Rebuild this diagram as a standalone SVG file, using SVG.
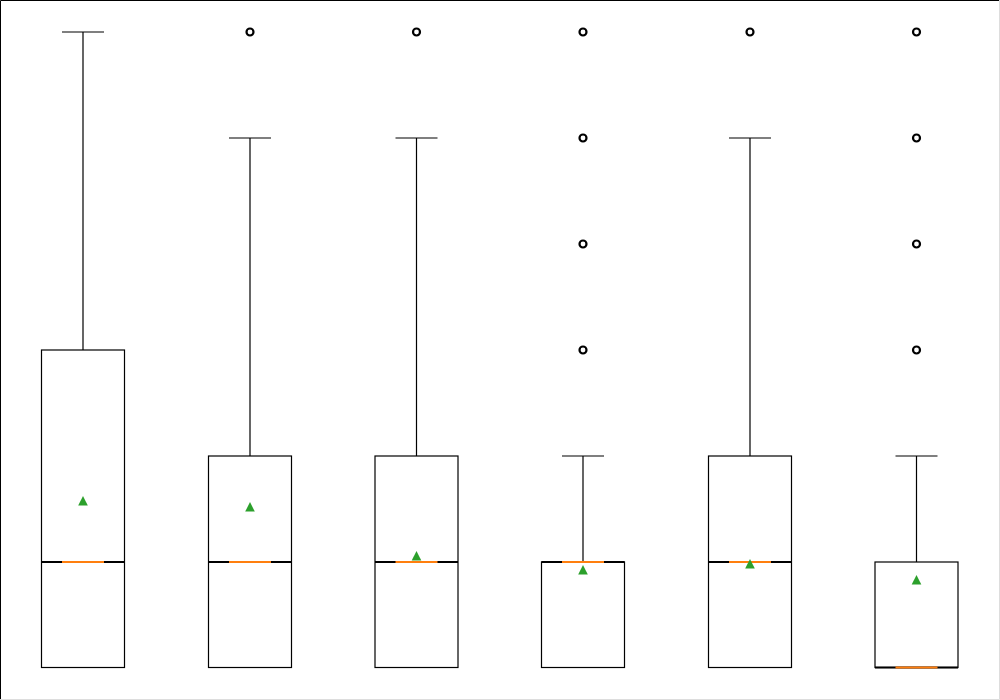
<svg xmlns="http://www.w3.org/2000/svg" xmlns:xlink="http://www.w3.org/1999/xlink" width="1000" height="700" viewBox="0 0 1000 700">
<style>
.box{fill:none;stroke:#000;stroke-width:1.2}
.wh{fill:none;stroke:#000;stroke-width:1.2}
.mline{fill:none;stroke:#000;stroke-width:2}
.med{stroke:#ff7f0e;stroke-width:2}
.fl{fill:none;stroke:#000;stroke-width:2.2}
.mean{fill:#2ca02c}
</style>
<defs>
<path id="tri" d="M0,-5 L4.8,4.6 L-4.8,4.6Z"/>
<circle id="flier" r="3.5"/>
</defs>
<rect width="1000" height="700" fill="#fff"/>
<path d="M0.5,700 V0.5 H1000" fill="none" stroke="#000" stroke-width="1"/>
<path d="M999.5,0 V699.5 H0" fill="none" stroke="#ddd" stroke-width="1"/>

<g id="box1">
<rect class="box" x="41.5" y="350" width="83" height="317.5"/>
<path class="wh" d="M83,350 V32 M62,32 H104 M62,667.5 H104"/>
<path class="mline" d="M41.5,562 H124.5"/>
<path class="med" d="M62,562 H104"/>
<use xlink:href="#tri" class="mean" x="83" y="501"/>
</g>

<g id="box2">
<rect class="box" x="208.5" y="456" width="83" height="211.5"/>
<path class="wh" d="M250,456 V138 M229,138 H271 M229,667.5 H271"/>
<path class="mline" d="M208.5,562 H291.5"/>
<path class="med" d="M229,562 H271"/>
<use xlink:href="#flier" class="fl" x="250" y="32"/>
<use xlink:href="#tri" class="mean" x="250" y="507"/>
</g>

<g id="box3">
<rect class="box" x="375" y="456" width="83" height="211.5"/>
<path class="wh" d="M416.5,456 V138 M395.5,138 H437.5 M395.5,667.5 H437.5"/>
<path class="mline" d="M375,562 H458"/>
<path class="med" d="M395.5,562 H437.5"/>
<use xlink:href="#flier" class="fl" x="416.5" y="32"/>
<use xlink:href="#tri" class="mean" x="416.5" y="556"/>
</g>

<g id="box4">
<rect class="box" x="541.5" y="562" width="83" height="105.5"/>
<path class="wh" d="M583,562 V456 M562,456 H604 M562,667.5 H604"/>
<path class="mline" d="M541.5,562 H624.5"/>
<path class="med" d="M562,562 H604"/>
<use xlink:href="#flier" class="fl" x="583" y="32"/>
<use xlink:href="#flier" class="fl" x="583" y="138"/>
<use xlink:href="#flier" class="fl" x="583" y="244"/>
<use xlink:href="#flier" class="fl" x="583" y="350"/>
<use xlink:href="#tri" class="mean" x="583" y="570"/>
</g>

<g id="box5">
<rect class="box" x="708.5" y="456" width="83" height="211.5"/>
<path class="wh" d="M750,456 V138 M729,138 H771 M729,667.5 H771"/>
<path class="mline" d="M708.5,562 H791.5"/>
<path class="med" d="M729,562 H771"/>
<use xlink:href="#flier" class="fl" x="750" y="32"/>
<use xlink:href="#tri" class="mean" x="750" y="564"/>
</g>

<g id="box6">
<rect class="box" x="875" y="562" width="83" height="105.5"/>
<path class="wh" d="M916.5,562 V456 M895.5,456 H937.5"/>
<path class="mline" d="M875,667.5 H958"/>
<path class="med" d="M895.5,667.5 H937.5"/>
<use xlink:href="#flier" class="fl" x="916.5" y="32"/>
<use xlink:href="#flier" class="fl" x="916.5" y="138"/>
<use xlink:href="#flier" class="fl" x="916.5" y="244"/>
<use xlink:href="#flier" class="fl" x="916.5" y="350"/>
<use xlink:href="#tri" class="mean" x="916.5" y="580"/>
</g>
</svg>
